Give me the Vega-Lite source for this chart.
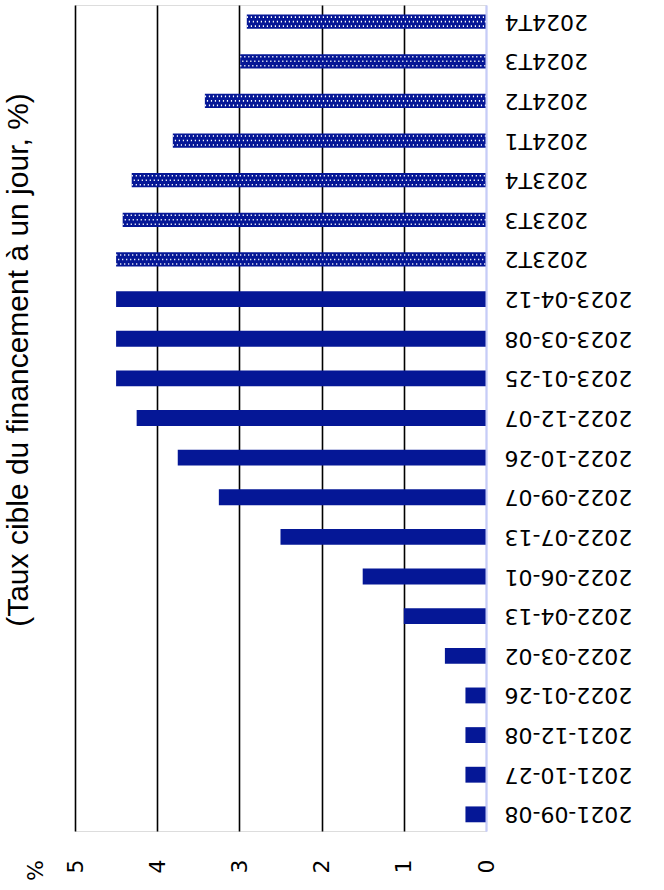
{
  "$schema": "https://vega.github.io/schema/vega-lite/v6.json",
  "width": 411,
  "height": 826,
  "autosize": "none",
  "padding": {"left": 75, "top": 5, "right": 178, "bottom": 59},
  "background": "white",
  "title": {
    "text": "(Taux cible du financement à un jour, %)",
    "orient": "left",
    "anchor": "middle",
    "dx": 58,
    "offset": -10,
    "font": "Liberation Sans",
    "fontSize": 30,
    "fontWeight": "normal",
    "color": "black"
  },
  "data": {
    "values": [
      {"date": "2021-09-08", "rate": 0.25, "kind": "réel"},
      {"date": "2021-10-27", "rate": 0.25, "kind": "réel"},
      {"date": "2021-12-08", "rate": 0.25, "kind": "réel"},
      {"date": "2022-01-26", "rate": 0.25, "kind": "réel"},
      {"date": "2022-03-02", "rate": 0.5, "kind": "réel"},
      {"date": "2022-04-13", "rate": 1.0, "kind": "réel"},
      {"date": "2022-06-01", "rate": 1.5, "kind": "réel"},
      {"date": "2022-07-13", "rate": 2.5, "kind": "réel"},
      {"date": "2022-09-07", "rate": 3.25, "kind": "réel"},
      {"date": "2022-10-26", "rate": 3.75, "kind": "réel"},
      {"date": "2022-12-07", "rate": 4.25, "kind": "réel"},
      {"date": "2023-01-25", "rate": 4.5, "kind": "réel"},
      {"date": "2023-03-08", "rate": 4.5, "kind": "réel"},
      {"date": "2023-04-12", "rate": 4.5, "kind": "réel"},
      {"date": "2023T2", "rate": 4.5, "kind": "prévu"},
      {"date": "2023T3", "rate": 4.42, "kind": "prévu"},
      {"date": "2023T4", "rate": 4.31, "kind": "prévu"},
      {"date": "2024T1", "rate": 3.81, "kind": "prévu"},
      {"date": "2024T2", "rate": 3.42, "kind": "prévu"},
      {"date": "2024T3", "rate": 2.99, "kind": "prévu"},
      {"date": "2024T4", "rate": 2.91, "kind": "prévu"}
    ]
  },
  "encoding": {
    "y": {
      "field": "date",
      "type": "nominal",
      "sort": {"field": "date", "order": "descending"},
      "scale": {"paddingInner": 0.6, "paddingOuter": 0.22},
      "axis": {
        "orient": "right",
        "title": null,
        "ticks": false,
        "domain": true,
        "domainColor": "#c6ccf7",
        "domainWidth": 2,
        "labelAngle": 180,
        "labelAlign": "right",
        "labelBaseline": "middle",
        "labelPadding": 18,
        "labelFont": "DejaVu Sans",
        "labelFontSize": 22,
        "labelColor": "black",
        "zindex": 2
      }
    },
    "x": {
      "field": "rate",
      "type": "quantitative",
      "scale": {"domain": [0, 5], "reverse": true, "nice": false},
      "axis": {
        "orient": "bottom",
        "values": [0, 1, 2, 3, 4, 5],
        "domain": false,
        "ticks": false,
        "grid": true,
        "gridColor": {"condition": {"test": "datum.value === 0", "value": "#c6ccf7"}, "value": "black"},
        "gridWidth": 1.6,
        "gridOpacity": 1,
        "labelAngle": -90,
        "labelAlign": "right",
        "labelBaseline": "middle",
        "labelPadding": 28,
        "labelFont": "DejaVu Sans",
        "labelFontSize": 22,
        "labelColor": "black",
        "labelFlush": false,
        "title": "%",
        "titleFont": "DejaVu Sans",
        "titleFontSize": 22,
        "titleFontWeight": "normal",
        "titleColor": "black",
        "titleAngle": -90,
        "titleAlign": "center",
        "titleBaseline": "middle",
        "titleX": -40,
        "titleY": 39
      }
    }
  },
  "layer": [
    {
      "transform": [{"filter": "datum.kind === 'réel'"}],
      "mark": {"type": "bar", "color": "#051796"}
    },
    {
      "transform": [{"filter": "datum.kind === 'prévu'"}],
      "mark": {"type": "bar", "color": "#051796", "height": {"band": 0.9}}
    },
    {
      "transform": [{"filter": "datum.kind === 'prévu'"}],
      "mark": {"type": "rule", "color": "white", "strokeWidth": 1.6, "strokeDash": [1.2, 2.8], "yOffset": -4.5},
      "encoding": {"x2": {"datum": 0}}
    },
    {
      "transform": [{"filter": "datum.kind === 'prévu'"}],
      "mark": {"type": "rule", "color": "white", "strokeWidth": 1.6, "strokeDash": [1.2, 2.8], "strokeDashOffset": 2, "yOffset": 0},
      "encoding": {"x2": {"datum": 0}}
    },
    {
      "transform": [{"filter": "datum.kind === 'prévu'"}],
      "mark": {"type": "rule", "color": "white", "strokeWidth": 1.6, "strokeDash": [1.2, 2.8], "yOffset": 4.5},
      "encoding": {"x2": {"datum": 0}}
    }
  ]
}
